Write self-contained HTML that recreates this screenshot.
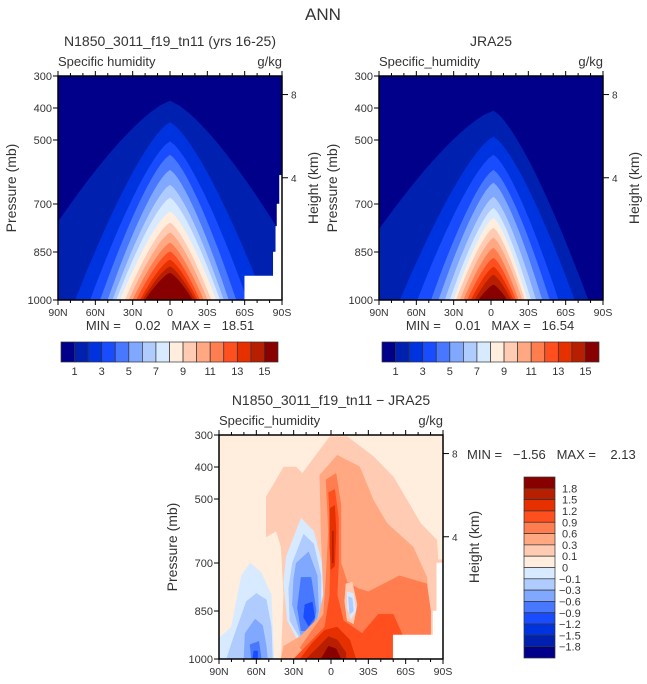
<!DOCTYPE html>
<html><head><meta charset="utf-8"><style>
body{margin:0;background:#fff;}
svg{display:block;font-family:"Liberation Sans","DejaVu Sans",sans-serif;}
text{fill:#333;white-space:pre;}
</style></head><body>
<svg id="fig" width="647" height="684" viewBox="0 0 647 684" xmlns="http://www.w3.org/2000/svg">
<text x="323" y="20" font-size="17" text-anchor="middle" fill="#555">ANN</text>
<g id="p1"></g>
<g id="p2"></g>
<g id="p3"></g>
<g id="cb"></g>
</svg>
<script>
// ---------- data ----------
const pressureTicks=[300,400,500,700,850,1000];
const latTickLabels=["90N","60N","30N","0","30S","60S","90S"];
const latTickValues=[90,60,30,0,-30,-60,-90];
const heightTicks=[8,4];
const heightTickPressures=[358,618];
const absColors=["#00008b","#0020b0","#0033e0","#1a4cff","#4778ff","#80a8ff","#b0ccff","#d8eaff","#ffeedd","#ffcbb3","#ffa882","#ff7d4f","#ff4f1f","#e63000","#b81e00","#880000"];
const absLabels=["1","3","5","7","9","11","13","15"];
const diffLabels=["1.8","1.5","1.2","0.9","0.6","0.3","0.1","0","\u22120.1","\u22120.3","\u22120.6","\u22120.9","\u22121.2","\u22121.5","\u22121.8"];
// model: per contour level (1..15) peak pressure, bottom half-widths north / south (deg)
const modelPeak=[378,445,505,547,594,641,681,724,759,790,822,849,875,896,916];
const modelWN=[130,76,64,56,50,46,43,40,36,33,30,27,24,22,20];
const modelWS=[120,76,62,53,47,43,40,37,33,30,27,24,22,20,18];
const modelCenter=0;
// JRA25
const obsPeak=[409,490,547,594,634,678,713,744,775,806,838,869,897,922,953];
const obsWN=[130,75,61,50,44,39,35,32,30,27,24,21,18,15,12];
const obsWS=[76,65,52,45,39,34,30,27,25,23,20,18,16,14,11];
const obsCenter=-2;
// difference field regions: [colorIndex, [[lat,p],...]]
const diffRegions=[
 [9,[[52,618],[52,493],[38,400],[28,400],[23,420],[9,347],[1,305],[-13,305],[-34,367],[-50,430],[-72,576],[-85,628],[-86,690],[-90,690],[-90,1000],[40,1000],[38,800],[40,650],[44,600]]],
 [7,[[90,935],[80,900],[72,740],[65,700],[56,730],[48,800],[46,1000],[90,1000]]],
 [7,[[36,680],[24,560],[14,600],[6,720],[6,850],[10,950],[22,975],[35,880],[38,760]]],
 [6,[[84,1000],[78,930],[68,820],[60,795],[52,815],[48,900],[47,1000]]],
 [6,[[31,700],[22,610],[14,640],[8,740],[8,850],[12,935],[22,955],[33,880],[34,780]]],
 [5,[[70,1000],[69,920],[61,875],[55,895],[52,960],[51,1000]]],
 [5,[[28,700],[18,665],[11,740],[10,850],[14,925],[24,930],[31,830],[30,750]]],
 [4,[[24,745],[16,745],[12,850],[15,912],[24,912],[27,840]]],
 [4,[[64,1000],[65,955],[58,945],[56,1000]]],
 [3,[[21,830],[15,822],[13,870],[18,897],[22,870]]],
 [3,[[63,1000],[62,975],[59,975],[59,1000]]],
 [10,[[9,425],[-5,363],[-23,399],[-34,503],[-45,576],[-66,650],[-77,744],[-80,1000],[40,1000],[38,960],[25,930],[10,870],[6,800],[8,600]]],
 [11,[[4,440],[-4,420],[-8,520],[-8,700],[-13,760],[-22,780],[-30,790],[-55,740],[-77,765],[-80,850],[-80,1000],[15,1000],[25,965],[15,910],[6,860],[4,750],[2,600]]],
 [9,[[-12,765],[-17,760],[-21,830],[-18,890],[-13,880],[-11,820]]],
 [7,[[-13,790],[-18,795],[-20,850],[-16,875],[-13,840]]],
 [6,[[-14,805],[-17,810],[-18,850],[-15,860]]],
 [12,[[2,480],[-3,470],[-6,560],[-6,700],[-5,800],[-10,880],[-25,920],[-38,860],[-50,860],[-58,930],[-58,1000],[30,1000],[20,960],[5,900],[1,800],[0,600]]],
 [13,[[1,530],[-3,520],[-4,600],[-3,710],[0,720],[1,650]]],
 [13,[[25,1000],[15,950],[5,910],[-5,900],[-15,940],[-20,1000]]],
 [14,[[20,1000],[10,962],[2,930],[-5,940],[-12,980],[-12,1000]]],
 [14,[[-1,600],[-2,600],[-2,700],[-1,700]]],
 [15,[[8,1000],[2,960],[-4,968],[-8,1000]]]
];
// missing-data (below ground) masks: [[lat,p],...]
const modelMask=[[-60,925],[-83,925],[-83,850],[-85,850],[-85,770],[-86,770],[-86,700],[-88,700],[-88,610],[-90,610],[-90,1000],[-60,1000]];
const diffMask=[[-50,925],[-82,925],[-82,850],[-85,850],[-85,700],[-90,700],[-90,1000],[-50,1000]];

// ---------- drawing ----------
const NS="http://www.w3.org/2000/svg";
function mk(parent,tag,attrs){const e=document.createElementNS(NS,tag);for(const k in attrs)e.setAttribute(k,attrs[k]);parent.appendChild(e);return e;}
function axisFns(x0,y0,w,h){return {x:lat=>x0+(90-lat)/180*w, y:p=>y0+(p-300)/700*h};}

function frame(g,x0,y0,w,h,id,title,sub,unit){
 const A=axisFns(x0,y0,w,h);
 let t=mk(g,'text',{x:x0+w/2,y:y0-30,'font-size':14,'text-anchor':'middle'});t.textContent=title;
 
 
 t=mk(g,'text',{x:x0,y:y0-10,'font-size':13});t.textContent=sub;
 
 
 t=mk(g,'text',{x:x0+w,y:y0-10,'font-size':13,'text-anchor':'end'});t.textContent=unit;
 
 
 const cp=mk(g,'clipPath',{id:id});mk(cp,'rect',{x:x0,y:y0,width:w,height:h});
 const plot=mk(g,'g',{'clip-path':'url(#'+id+')'});
 
 
 return {A,plot};
}
function axes(g,x0,y0,w,h,A){
 const r=mk(g,'rect',{x:x0,y:y0,width:w,height:h,fill:'none',stroke:'#000','stroke-width':1.5});
 
 
 pressureTicks.forEach(p=>{const y=A.y(p);mk(g,'line',{x1:x0-5,x2:x0,y1:y,y2:y,stroke:'#000'});
  const t=mk(g,'text',{x:x0-6,y:y+4,'font-size':11,'text-anchor':'end'});t.textContent=p;
  
  });
 for(let lat=90;lat>=-90;lat-=10){const x=A.x(lat);const mj=lat%30===0;
  mk(g,'line',{x1:x,x2:x,y1:y0+h,y2:y0+h+(mj?5:3),stroke:'#000'});
  mk(g,'line',{x1:x,x2:x,y1:y0,y2:y0-(mj?5:3),stroke:'#000'});}
 latTickValues.forEach((lat,i)=>{const t=mk(g,'text',{x:A.x(lat),y:y0+h+16,'font-size':10.5,'text-anchor':'middle'});t.textContent=latTickLabels[i];
  
  });
 heightTicks.forEach((k,i)=>{const y=A.y(heightTickPressures[i]);mk(g,'line',{x1:x0+w,x2:x0+w+6,y1:y,y2:y,stroke:'#000'});
  const t=mk(g,'text',{x:x0+w+9,y:y+4,'font-size':10,}); t.textContent=k;
  
  });
 let t=mk(g,'text',{transform:`translate(${x0-42},${y0+h/2}) rotate(-90)`,'font-size':14,'text-anchor':'middle',fill:'#555'});t.textContent='Pressure (mb)';
 
 
 t=mk(g,'text',{transform:`translate(${x0+w+36},${y0+h/2}) rotate(-90)`,'font-size':14,'text-anchor':'middle',fill:'#555'});t.textContent='Height (km)';
 
 
}
function poly(plot,A,pts,color,name){
 const d=pts.map((q,i)=>(i?'L':'M')+A.x(q[0]).toFixed(1)+','+A.y(q[1]).toFixed(1)).join('')+'Z';
 const e=mk(plot,'path',{d:d,fill:color,stroke:color,'stroke-width':0.5,'stroke-linejoin':'round'});
 
 
}
function absPanel(g,x0,y0,peaks,wN,wS,c,id,title,mask){
 const w=224,h=224;const {A,plot}=frame(g,x0,y0,w,h,id,title,id==='c1'?'Specific humidity':'Specific_humidity','g/kg');
 mk(plot,'rect',{x:x0,y:y0,width:w,height:h,fill:absColors[0]});
 peaks.forEach((p0,k)=>{
  const pts=[];const n=16;
  for(let i=n;i>=0;i--){const t=i/n;pts.push([c+wN[k]*t,p0+(1000-p0)*Math.pow(t,1.35)]);}
  for(let i=1;i<=n;i++){const t=i/n;pts.push([c-wS[k]*t,p0+(1000-p0)*Math.pow(t,1.35)]);}
  pts.push([c-wS[k],1010]);pts.push([c+wN[k],1010]);
  poly(plot,A,pts,absColors[k+1],'contour-level-'+(k+1));
 });
 if(mask)poly(plot,A,mask,'#fff','missing-data-mask');
 axes(g,x0,y0,w,h,A);
}
const g1=document.getElementById('p1'),g2=document.getElementById('p2'),g3=document.getElementById('p3'),cb=document.getElementById('cb');
absPanel(g1,58,76,modelPeak,modelWN,modelWS,modelCenter,'c1','N1850_3011_f19_tn11 (yrs 16-25)',modelMask);
absPanel(g2,379,76,obsPeak,obsWN,obsWS,obsCenter,'c2','JRA25',null);
(function(){const x0=219,y0=435,w=224,h=224;
 const {A,plot}=frame(g3,x0,y0,w,h,'c3','N1850_3011_f19_tn11 \u2212 JRA25','Specific_humidity','g/kg');
 mk(plot,'rect',{x:x0,y:y0,width:w,height:h,fill:absColors[8]});
 diffRegions.forEach((r,i)=>poly(plot,A,r[1],absColors[r[0]],'diff-region-'+i));
 poly(plot,A,diffMask,'#fff','missing-data-mask');
 axes(g3,x0,y0,w,h,A);
})();
function stat(x,y,txt,anchor){const t=mk(cb,'text',{x:x,y:y,'font-size':13,'text-anchor':anchor,'xml:space':'preserve'});t.textContent=txt;
 
 }
stat(170,330,'MIN =    0.02   MAX =   18.51','middle');
stat(490,330,'MIN =    0.01   MAX =   16.54','middle');
stat(467,459,'MIN =   \u22121.56   MAX =    2.13','start');
function hbar(x0,y0){const bw=217/16;
 absColors.forEach((c,i)=>{const r=mk(cb,'rect',{x:x0+i*bw,y:y0,width:bw,height:20,fill:c,stroke:'#333','stroke-width':0.7});
  
  });
 absLabels.forEach((l,i)=>{const t=mk(cb,'text',{x:x0+(2*i+1)*bw,y:y0+33,'font-size':11,'text-anchor':'middle'});t.textContent=l;
  
  });}
hbar(61,342);hbar(382,342);
(function(){const x0=524,y0=477,bh=181/16;
 absColors.slice().reverse().forEach((c,i)=>{const r=mk(cb,'rect',{x:x0,y:y0+i*bh,width:31,height:bh,fill:c,stroke:'#333','stroke-width':0.7});
  
  });
 diffLabels.forEach((l,i)=>{const t=mk(cb,'text',{x:l[0]==='\u2212'?559:562,y:y0+(i+1)*bh+4,'font-size':11});t.textContent=l;
  
  });
})();
</script>
</body></html>
